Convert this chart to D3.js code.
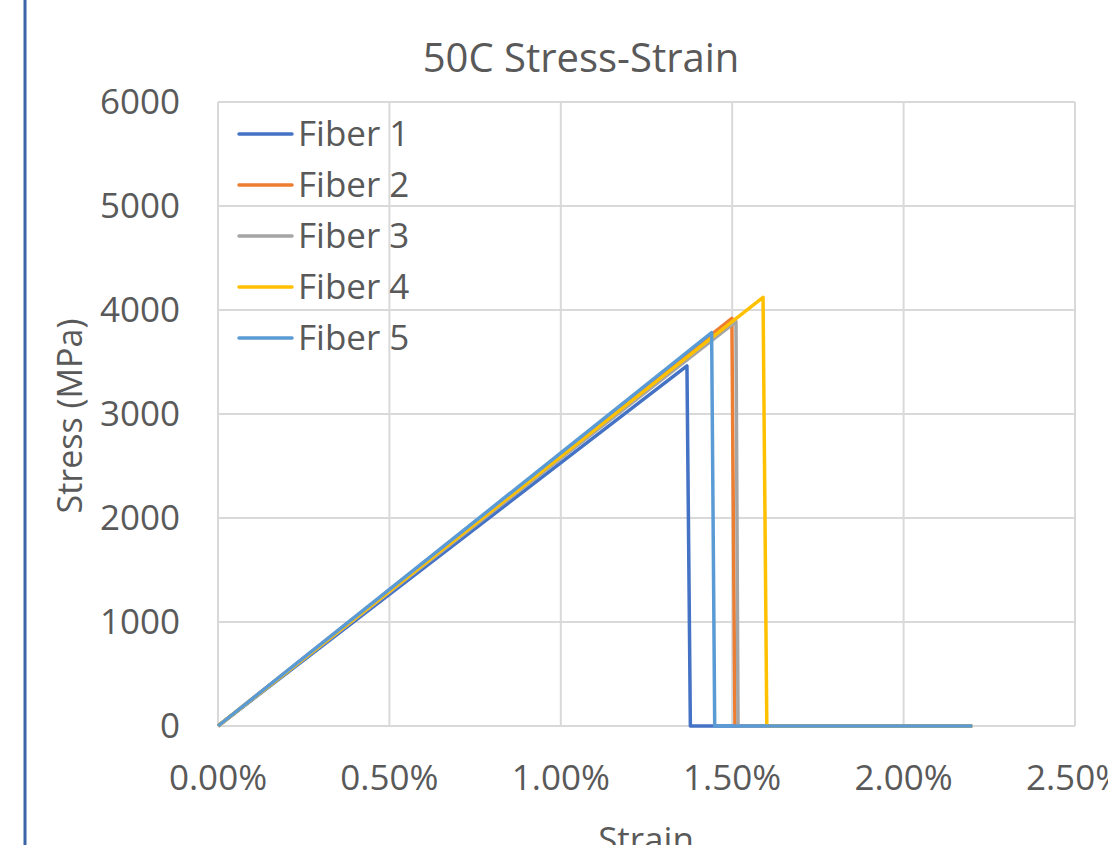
<!DOCTYPE html>
<html lang="en">
<head>
<meta charset="UTF-8">
<title>50C Stress-Strain</title>
<script src="https://d3js.org/d3.v7.min.js"></script>
<style>
  body { margin: 0; background: #fff; }
  text { font-family: "Open Sans", sans-serif; fill: #595959; }
</style>
</head>
<body>
<script>
// series: strain (%) and stress (MPa)
const seriesNames = ["Fiber 1", "Fiber 2", "Fiber 3", "Fiber 4", "Fiber 5"]
const seriesColors = ["#4472C4", "#ED7D31", "#A5A5A5", "#FFC000", "#5B9BD5"]
const fiber1 = [[0, 0], [1.368, 3462], [1.378, 0], [2.2, 0]]
const fiber2 = [[0, 0], [1.499, 3920], [1.508, 0], [2.2, 0]]
const fiber3 = [[0, 0], [1.511, 3888], [1.517, 0], [2.2, 0]]
const fiber4 = [[0, 0], [1.590, 4122], [1.601, 0], [2.2, 0]]
const fiber5 = [[0, 0], [1.440, 3782], [1.449, 0], [2.2, 0]]
const allSeries = [fiber1, fiber2, fiber3, fiber4, fiber5]
const xTicks = [0, 0.5, 1.0, 1.5, 2.0, 2.5]
const yTicks = [0, 1000, 2000, 3000, 4000, 5000, 6000]

const width = 1108
const height = 845
const plotLeft = 218, plotRight = 1075, plotTop = 102, plotBottom = 726

const svg = d3.select("body").append("svg")
    .attr("width", width)
    .attr("height", height)

// the blue rule on the left edge
svg.append("line")
    .attr("x1", 25).attr("x2", 25)
    .attr("y1", 0).attr("y2", height)
    .attr("stroke", "#3A65A8")
    .attr("stroke-width", 3)

const x = d3.scaleLinear().domain([0, 2.5]).range([plotLeft, plotRight])
const y = d3.scaleLinear().domain([0, 6000]).range([plotBottom, plotTop])

// gridlines
svg.append("g")
    .selectAll("line")
    .data(yTicks)
    .join("line")
    .attr("x1", plotLeft).attr("x2", plotRight)
    .attr("y1", d => y(d)).attr("y2", d => y(d))
    .attr("stroke", "#D9D9D9")
    .attr("stroke-width", 2)

svg.append("g")
    .selectAll("line")
    .data(xTicks)
    .join("line")
    .attr("x1", d => x(d)).attr("x2", d => x(d))
    .attr("y1", plotTop).attr("y2", plotBottom)
    .attr("stroke", "#D9D9D9")
    .attr("stroke-width", 2)

// tick labels
svg.append("g")
    .selectAll("text")
    .data(yTicks)
    .join("text")
    .attr("x", 180)
    .attr("y", d => y(d))
    .attr("dy", "0.35em")
    .attr("text-anchor", "end")
    .style("font-size", "35px")
    .text(d => d)

svg.append("g")
    .selectAll("text")
    .data(xTicks)
    .join("text")
    .attr("x", d => x(d))
    .attr("y", 790)
    .attr("text-anchor", "middle")
    .style("font-size", "35px")
    .text(d => d.toFixed(2) + "%")

// lines
const line = d3.line()
    .x(d => x(d[0]))
    .y(d => y(d[1]))

svg.append("g")
    .selectAll("path")
    .data(allSeries)
    .join("path")
    .attr("d", line)
    .attr("fill", "none")
    .attr("stroke", (d, i) => seriesColors[i])
    .attr("stroke-width", 3.5)
    .attr("stroke-linejoin", "round")

// title and axis titles
svg.append("text")
    .attr("x", 581)
    .attr("y", 72)
    .attr("text-anchor", "middle")
    .style("font-size", "40px")
    .text("50C Stress-Strain")

svg.append("text")
    .attr("transform", "translate(82, 416) rotate(-90)")
    .attr("text-anchor", "middle")
    .style("font-size", "34px")
    .text("Stress (MPa)")

svg.append("text")
    .attr("x", 646)
    .attr("y", 852)
    .attr("text-anchor", "middle")
    .style("font-size", "35px")
    .text("Strain")

// legend
const legend = svg.append("g")
    .selectAll("g")
    .data(seriesNames)
    .join("g")
    .attr("transform", (d, i) => `translate(239, ${134 + i * 51})`)

legend.append("line")
    .attr("x1", 0).attr("x2", 53)
    .attr("stroke", (d, i) => seriesColors[i])
    .attr("stroke-width", 3.5)
    .attr("stroke-linecap", "round")

legend.append("text")
    .attr("x", 59)
    .attr("dy", "0.35em")
    .style("font-size", "35px")
    .text(d => d)
</script>
</body>
</html>
